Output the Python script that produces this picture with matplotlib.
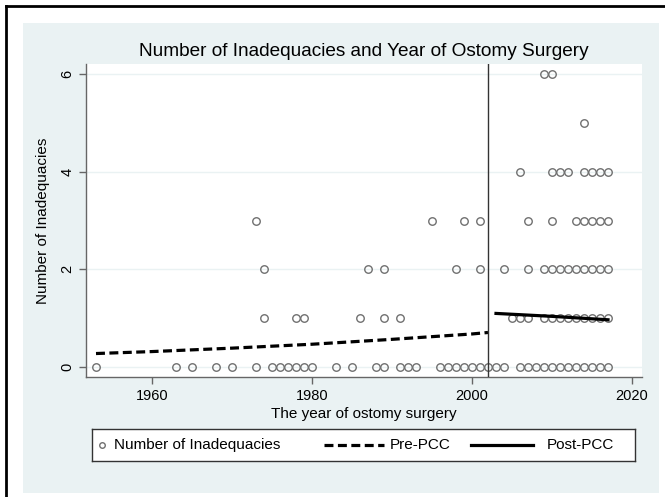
import matplotlib.pyplot as plt
from matplotlib.lines import Line2D
from matplotlib.patches import Rectangle

W, H = 665, 497

# surgery years for each number of inadequacies
years_0 = [1953, 1963, 1965, 1968, 1970, 1973, 1975, 1976, 1977, 1978, 1979, 1980,
           1983, 1985, 1988, 1989, 1991, 1992, 1993, 1996, 1997, 1998, 1999, 2000,
           2001, 2002, 2003, 2004, 2006, 2007, 2008, 2009, 2010, 2011, 2012, 2013,
           2014, 2015, 2016, 2017]
years_1 = [1974, 1978, 1979, 1986, 1989, 1991, 2005, 2006, 2007, 2009, 2010, 2011,
           2012, 2013, 2014, 2015, 2016, 2017]
years_2 = [1974, 1987, 1989, 1998, 2001, 2004, 2007, 2009, 2010, 2011, 2012, 2013,
           2014, 2015, 2016, 2017]
years_3 = [1973, 1995, 1999, 2001, 2007, 2010, 2013, 2014, 2015, 2016, 2017]
years_4 = [2006, 2010, 2011, 2012, 2014, 2015, 2016, 2017]
years_5 = [2014]
years_6 = [2009, 2010]

# fitted lines
pre_years = [1953, 1960, 1970, 1980, 1990, 2000, 2002]
pre_fit = [0.28, 0.32, 0.39, 0.47, 0.57, 0.68, 0.71]
post_years = [2003, 2010, 2017]
post_fit = [1.10, 1.04, 0.97]

pcc_year = 2002

bg = "#EAF2F3"
mk_col = "#707070"

plt.rcParams['font.family'] = ['Liberation Sans', 'DejaVu Sans']

fig = plt.figure(figsize=(W / 100, H / 100), dpi=100)
fig.patch.set_facecolor("white")


def px_box(x0, y0, x1, y1):
    """ pixel box (top based) to figure fraction """
    return [x0 / W, 1 - y1 / H, (x1 - x0) / W, (y1 - y0) / H]


# light outer region
b = px_box(23, 23, 659, 493)
fig.patches.append(Rectangle((b[0], b[1]), b[2], b[3], transform=fig.transFigure,
                             facecolor=bg, edgecolor="none", zorder=-10))
# black frame at left and top edge
fig.lines.append(Line2D([6 / W, 6 / W], [0, 1 - 6 / H], transform=fig.transFigure,
                        color="black", lw=2, zorder=10))
fig.lines.append(Line2D([6 / W, 1], [1 - 6 / H, 1 - 6 / H], transform=fig.transFigure,
                        color="black", lw=2, zorder=10))

ax = fig.add_axes(px_box(86, 64, 642, 377))
ax.set_facecolor("white")

levels = [years_0, years_1, years_2, years_3, years_4, years_5, years_6]
for n, yrs in enumerate(levels):
    ax.plot(yrs, [n] * len(yrs), linestyle="none", marker="o", markersize=5.4,
            markerfacecolor="none", markeredgecolor=mk_col, markeredgewidth=1.0,
            zorder=3)

ax.plot(pre_years, pre_fit, color="black", lw=2.3, dashes=(2.8, 1.4), zorder=4)
ax.plot(post_years, post_fit, color="black", lw=2.3, zorder=4)
ax.axvline(pcc_year, color="#333333", lw=1.0, zorder=5)

ax.set_xlim(1951.75, 2021.25)
ax.set_ylim(-0.2, 6.2)
ax.set_xticks([1960, 1980, 2000, 2020])
ax.set_yticks([0, 2, 4, 6])
ax.grid(axis="y", color=bg, lw=1.0, zorder=0)
ax.set_axisbelow(True)

for s in ["top", "right"]:
    ax.spines[s].set_visible(False)
for s in ["left", "bottom"]:
    ax.spines[s].set_color("#666666")
    ax.spines[s].set_linewidth(1.0)
ax.tick_params(colors="#666666", length=5, width=1.0, labelcolor="black",
               labelsize=10.5)
for lab in ax.get_yticklabels():
    lab.set_rotation(90)
    lab.set_va("center")

ax.set_title("Number of Inadequacies and Year of Ostomy Surgery", fontsize=13.7,
             pad=6)
ax.set_xlabel("The year of ostomy surgery", fontsize=11, labelpad=3)
ax.set_ylabel("Number of Inadequacies", fontsize=11, labelpad=7)

# legend box drawn in pixel coordinates
lx0, ly0, lx1, ly1 = 92, 429, 635, 461
lax = fig.add_axes(px_box(lx0, ly0, lx1, ly1))
lax.set_xlim(lx0, lx1)
lax.set_ylim(ly1, ly0)
lax.set_xticks([])
lax.set_yticks([])
lax.set_facecolor("white")
for s in lax.spines.values():
    s.set_color("#333333")
    s.set_linewidth(1.0)
yc = (ly0 + ly1) / 2
lax.plot([102], [yc], marker="o", markersize=4, markerfacecolor="none",
         markeredgecolor=mk_col, markeredgewidth=1.0)
lax.text(114, yc, "Number of Inadequacies", va="center", ha="left", fontsize=11)
lax.plot([324, 384], [yc, yc], color="black", lw=2.3, dashes=(2.8, 1.4))
lax.text(390, yc, "Pre-PCC", va="center", ha="left", fontsize=11)
lax.plot([471, 533], [yc, yc], color="black", lw=2.3)
lax.text(547, yc, "Post-PCC", va="center", ha="left", fontsize=11)

fig.savefig("out.png", dpi=100)
